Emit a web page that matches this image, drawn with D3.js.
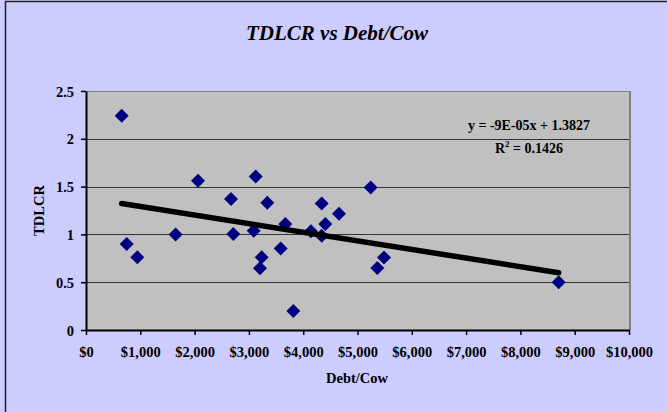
<!DOCTYPE html>
<html>
<head>
<meta charset="utf-8">
<script src="https://cdn.jsdelivr.net/npm/d3@7"></script>
<style>
  html, body { margin: 0; padding: 0; background: #ccccff; }
  svg { display: block; }
  text { font-family: "Liberation Serif", "Times New Roman", serif; font-weight: bold; fill: #000; }
</style>
</head>
<body>
<svg id="chart" width="667" height="412"></svg>
<script>
// Debt per cow ($) and TDLCR for each farm
const debtPerCow = [657, 749, 945, 1651, 2063, 2670, 2713, 3125, 3339, 3088, 3671, 3235,
                    3204, 3585, 3818, 4143, 4340, 4407, 4340, 4659, 5243, 5488, 5365, 8705];
const tdlcr      = [2.24, 0.90, 0.76, 1.00, 1.56, 1.37, 1.005, 1.605, 1.33, 1.037, 1.11, 0.76,
                    0.645, 0.853, 0.20, 1.034, 1.323, 1.11, 0.985, 1.215, 1.49, 0.759, 0.648, 0.50];

// Linear trendline, as reported in the equation label
const slope = -9e-5;
const intercept = 1.3827;
const rSquared = 0.1426;

const xTicks = [0, 1000, 2000, 3000, 4000, 5000, 6000, 7000, 8000, 9000, 10000];
const yTicks = [0, 0.5, 1, 1.5, 2, 2.5];

const svg = d3.select("#chart");
const plot = { left: 86, right: 629, top: 91, bottom: 330 };

const x = d3.scaleLinear().domain([0, 10000]).range([plot.left, plot.right]);
const y = d3.scaleLinear().domain([0, 2.5]).range([plot.bottom, plot.top]);

// Outer chart frame
svg.append("rect")
  .attr("x", 5.5).attr("y", 1.5).attr("width", 700).attr("height", 450)
  .attr("fill", "#ccccff").attr("stroke", "#222").attr("stroke-width", 1.5);

// Plot area
svg.append("rect")
  .attr("x", plot.left).attr("y", plot.top)
  .attr("width", plot.right - plot.left).attr("height", plot.bottom - plot.top)
  .attr("fill", "#c0c0c0");

// Horizontal gridlines
svg.append("g")
  .selectAll("line")
  .data(yTicks.filter(d => d > 0))
  .join("line")
  .attr("x1", plot.left).attr("x2", plot.right)
  .attr("y1", d => Math.round(y(d)) + 0.5).attr("y2", d => Math.round(y(d)) + 0.5)
  .attr("stroke", d => d === 2.5 ? "#808080" : "#333")
  .attr("stroke-width", 1);

// Plot-area right border
svg.append("line")
  .attr("x1", plot.right + 1).attr("x2", plot.right + 1)
  .attr("y1", plot.top).attr("y2", plot.bottom)
  .attr("stroke", "#808080").attr("stroke-width", 2);

// Axes
const xAxis = d3.axisBottom(x).tickValues(xTicks).tickSize(5).tickSizeOuter(0)
  .tickFormat(d => "$" + d3.format(",")(d));
const yAxis = d3.axisLeft(y).tickValues(yTicks).tickSize(5).tickSizeOuter(0)
  .tickFormat(d => d3.format("")(d));

const gx = svg.append("g").attr("transform", `translate(0,${plot.bottom})`).call(xAxis);
const gy = svg.append("g").attr("transform", `translate(${plot.left},0)`).call(yAxis);

[gx, gy].forEach(g => {
  g.attr("font-family", null).attr("font-size", null);
  g.select(".domain").attr("stroke", "#000").attr("stroke-width", 2);
  g.selectAll(".tick line").attr("stroke", "#000").attr("stroke-width", 1.5);
  g.selectAll(".tick text")
    .attr("font-family", "Liberation Serif, Times New Roman, serif")
    .attr("font-weight", "bold").attr("font-size", 14.5).attr("fill", "#000");
});
gx.selectAll(".tick text").attr("dy", null).attr("y", 27);
gy.selectAll(".tick text").attr("x", -12).attr("dy", "0.35em");

// Data points as diamonds
const points = debtPerCow.map((d, i) => ({ x: d, y: tdlcr[i] }));
const r = 7;
svg.append("g")
  .selectAll("path")
  .data(points)
  .join("path")
  .attr("d", d => {
    const cx = x(d.x), cy = y(d.y);
    return `M${cx},${cy - r}L${cx + r},${cy}L${cx},${cy + r}L${cx - r},${cy}Z`;
  })
  .attr("fill", "#000080");

// Trendline over the data range
const xMin = d3.min(debtPerCow), xMax = d3.max(debtPerCow);
svg.append("line")
  .attr("x1", x(xMin)).attr("y1", y(intercept + slope * xMin))
  .attr("x2", x(xMax)).attr("y2", y(intercept + slope * xMax))
  .attr("stroke", "#000").attr("stroke-width", 5.5).attr("stroke-linecap", "round");

// Trendline equation and R²
svg.append("text")
  .attr("x", 529).attr("y", 130).attr("text-anchor", "middle").attr("font-size", 14)
  .text(`y = ${slope.toExponential(0).replace("e", "E").replace("-5", "-05")}x + ${intercept}`);
const r2 = svg.append("text")
  .attr("x", 529).attr("y", 153).attr("text-anchor", "middle").attr("font-size", 14);
r2.append("tspan").text("R");
r2.append("tspan").attr("font-size", 9).attr("dy", -6).text("2");
r2.append("tspan").attr("dy", 6).text(` = ${rSquared}`);

// Titles
svg.append("text")
  .attr("x", 337).attr("y", 40).attr("text-anchor", "middle")
  .attr("font-size", 21).attr("font-style", "italic")
  .text("TDLCR vs Debt/Cow");
svg.append("text")
  .attr("x", 357).attr("y", 383).attr("text-anchor", "middle").attr("font-size", 14.5)
  .text("Debt/Cow");
svg.append("text")
  .attr("transform", `translate(44,${(plot.top + plot.bottom) / 2}) rotate(-90)`)
  .attr("text-anchor", "middle").attr("font-size", 14.5)
  .text("TDLCR");
</script>
</body>
</html>
